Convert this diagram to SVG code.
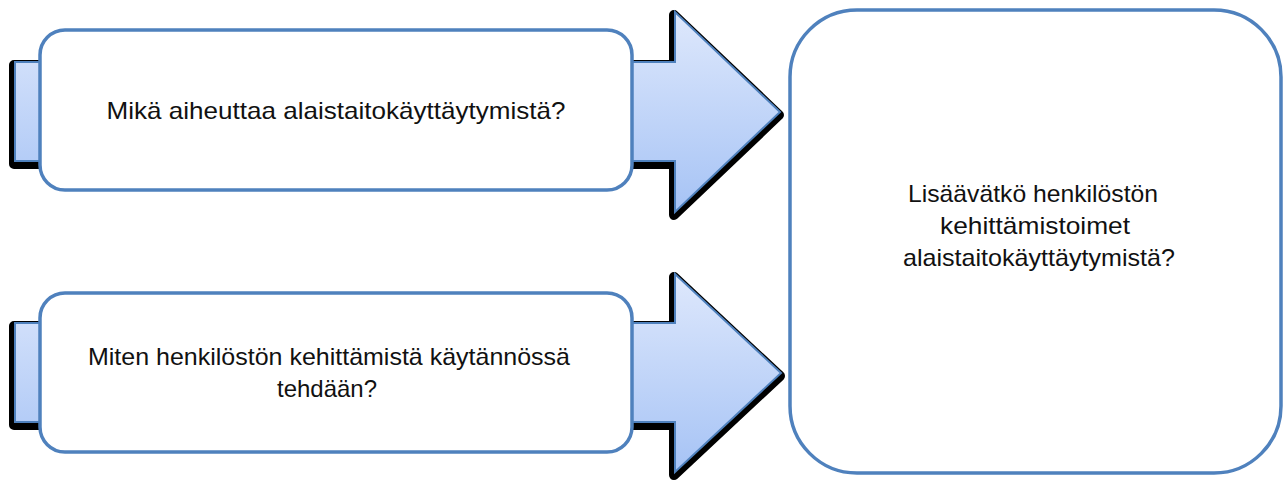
<svg xmlns="http://www.w3.org/2000/svg" width="1284" height="482" viewBox="0 0 1284 482">
  <defs>
    <linearGradient id="arrowFill" x1="0" y1="0" x2="0" y2="1">
      <stop offset="0" stop-color="#DEE8FC"/>
      <stop offset="1" stop-color="#A6C3F5"/>
    </linearGradient>
    <style>
      .shadow { fill: #000; stroke: #000; stroke-width: 10; stroke-linejoin: round; }
      .arrow { fill: url(#arrowFill); stroke: #4F81BD; stroke-width: 2; stroke-linejoin: miter; }
      .box { fill: #fff; stroke: #4F81BD; stroke-width: 3.5; }
      .lbl { font-family: "Liberation Sans", Arial, sans-serif; font-size: 24px; fill: #111; text-anchor: middle; }
    </style>
  </defs>

  <g id="connectors">
    <g id="arrow-top">
      <path class="shadow" transform="translate(-1,3)" d="M15,62 H675 V12 L780,112 L675,212 V161 H15 Z"/>
      <path class="arrow" d="M15,62 H675 V12 L780,112 L675,212 V161 H15 Z"/>
    </g>
    <g id="arrow-bottom">
      <path class="shadow" transform="translate(-1,3)" d="M15,323 H675 V274 L781,373 L675,472 V422 H15 Z"/>
      <path class="arrow" d="M15,323 H675 V274 L781,373 L675,472 V422 H15 Z"/>
    </g>
  </g>

  <g id="node-top">
    <rect class="box" x="40" y="30" width="592" height="160" rx="25" ry="25"/>
    <text class="lbl" x="336" y="119" textLength="459" lengthAdjust="spacingAndGlyphs">Mikä aiheuttaa alaistaitokäyttäytymistä?</text>
  </g>

  <g id="node-bottom">
    <rect class="box" x="40" y="293" width="592" height="159" rx="25" ry="25"/>
    <text class="lbl" x="329" y="365" textLength="482" lengthAdjust="spacingAndGlyphs">Miten henkilöstön kehittämistä käytännössä</text>
    <text class="lbl" x="327" y="397" textLength="100" lengthAdjust="spacingAndGlyphs">tehdään?</text>
  </g>

  <g id="node-right">
    <rect class="box" x="790" y="10" width="491" height="463" rx="67" ry="67"/>
    <text class="lbl" x="1033" y="202" textLength="250" lengthAdjust="spacingAndGlyphs">Lisäävätkö henkilöstön</text>
    <text class="lbl" x="1035" y="234" textLength="190" lengthAdjust="spacingAndGlyphs">kehittämistoimet</text>
    <text class="lbl" x="1039" y="266" textLength="272" lengthAdjust="spacingAndGlyphs">alaistaitokäyttäytymistä?</text>
  </g>
</svg>
